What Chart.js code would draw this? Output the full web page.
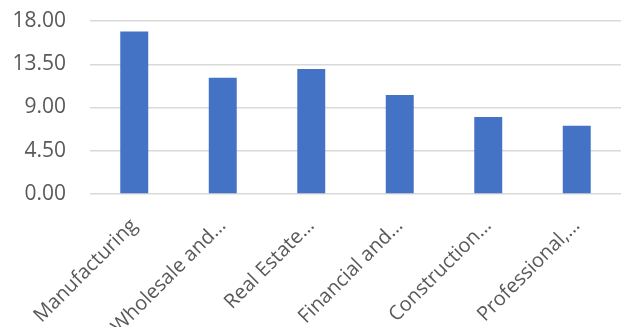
<!DOCTYPE html>
<html>
<head>
<meta charset="utf-8">
<script src="https://cdn.jsdelivr.net/npm/chart.js@4"></script>
<style>
  html, body { margin: 0; padding: 0; background: #fff; }
  #wrap { width: 626px; height: 327px; }
</style>
</head>
<body>
<div id="wrap"><canvas id="chart"></canvas></div>
<script>
const categories = ['Manufacturing', 'Wholesale and…', 'Real Estate…', 'Financial and…', 'Construction…', 'Professional,…'];
const values = [16.9, 12.1, 13.0, 10.3, 8.0, 7.1];
const yTicks = [0, 4.5, 9, 13.5, 18];

document.addEventListener('DOMContentLoaded', () => {
    const ctx = document.getElementById('chart').getContext('2d');
    new Chart(ctx, {
        type: 'bar',
        data: {
            labels: categories,
            datasets: [{
                data: values,
                backgroundColor: '#4472C4',
                categoryPercentage: 1,
                barPercentage: 0.316
            }]
        },
        options: {
            responsive: true,
            maintainAspectRatio: false,
            animation: false,
            layout: { padding: { top: 21, right: 5, left: 0, bottom: 0 } },
            plugins: { legend: { display: false }, tooltip: { enabled: false } },
            scales: {
                x: {
                    grid: { display: false },
                    border: { display: false },
                    ticks: {
                        color: '#595959',
                        font: { family: 'Open Sans', size: 20 },
                        minRotation: 45,
                        maxRotation: 45,
                        padding: 12,
                        autoSkip: false
                    },
                    afterFit: (scale) => { scale.height = 133; }
                },
                y: {
                    min: 0,
                    max: 18,
                    afterBuildTicks: (scale) => { scale.ticks = yTicks.map(v => ({ value: v })); },
                    grid: { color: '#D9D9D9', lineWidth: 1.5, drawTicks: false },
                    border: { display: false },
                    ticks: {
                        color: '#595959',
                        font: { family: 'Open Sans', size: 21 },
                        padding: 24,
                        callback: (v) => Number(v).toFixed(2)
                    },
                    afterFit: (scale) => {
                        scale.width = 90;
                        // tick padding otherwise pushes the plot top down
                        scale.paddingTop = 0;
                        scale.paddingBottom = 0;
                    }
                }
            }
        }
    });
});
</script>
</body>
</html>
